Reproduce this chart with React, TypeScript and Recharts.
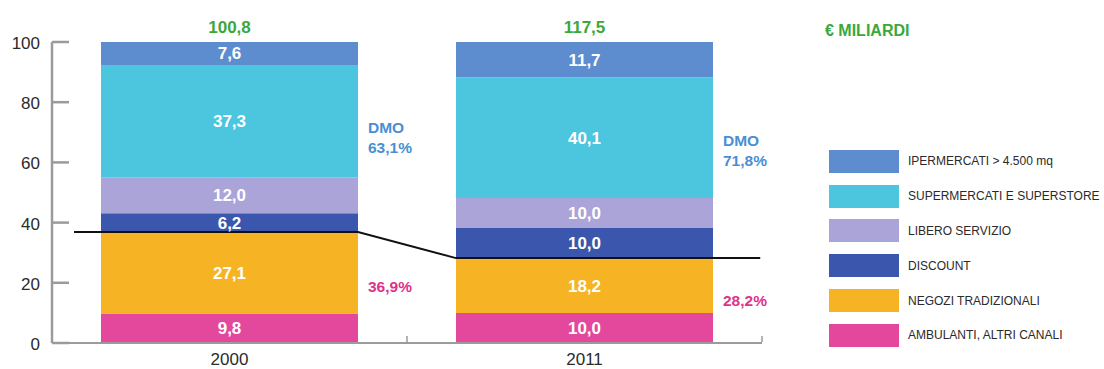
import React from "react"
import {
  Bar,
  ComposedChart,
  LabelList,
  Line,
  XAxis,
  YAxis,
} from "recharts"

// shares (%) per channel, bottom of the stack first
const years = ["2000", "2011"]
const totals = [100.8, 117.5] // € miliardi
const ambulanti = [9.8, 10.0]
const negozi = [27.1, 18.2]
const discount = [6.2, 10.0]
const libero = [12.0, 10.0]
const supermercati = [37.3, 40.1]
const ipermercati = [7.6, 11.7]
const yTicks = [0, 20, 40, 60, 80, 100]

const series = [
  { key: "ambulanti", name: "AMBULANTI, ALTRI CANALI", color: "#e4489c", values: ambulanti },
  { key: "negozi", name: "NEGOZI TRADIZIONALI", color: "#f6b324", values: negozi },
  { key: "discount", name: "DISCOUNT", color: "#3b56ad", values: discount },
  { key: "libero", name: "LIBERO SERVIZIO", color: "#aaa4d8", values: libero },
  { key: "supermercati", name: "SUPERMERCATI E SUPERSTORE", color: "#4cc5df", values: supermercati },
  { key: "ipermercati", name: "IPERMERCATI > 4.500 mq", color: "#5d8dcf", values: ipermercati },
]

const traditional = years.map((_, i) => +(ambulanti[i] + negozi[i]).toFixed(1))
const dmo = years.map((_, i) => +(100 - traditional[i]).toFixed(1))

const rows = years.map((year, i) => {
  const row: Record<string, number | string> = { year, total: totals[i], trad: traditional[i], dmo: dmo[i] }
  series.forEach((s) => (row[s.key] = s.values[i]))
  return row
})

// step line marking the traditional share, x in band units (0..2)
const stepX = [0.062, 0.862, 1.138, 1.995]
const stepLine = stepX.map((pos, i) => ({ pos, trad: traditional[i < 2 ? 0 : 1] }))

const W = 1104
const H = 369
const MARGIN = { top: 42, right: 342, bottom: 0, left: 0 }
const Y_W = 52
const X_H = 26
const BAND = (W - MARGIN.left - MARGIN.right - Y_W) / years.length
const BAR = 257

const fmt = (v: number) => v.toFixed(1).replace(".", ",")
const FONT = "Liberation Sans, Arial, sans-serif"

const YTick = (props: any) => {
  const { x, y, payload } = props
  return (
    <g>
      <line x1={x + 12} x2={x + 29} y1={y} y2={y} stroke="#9b9b9b" strokeWidth={2.5} />
      <text x={x} y={y} dy={7} textAnchor="end" fontSize={17} fill="#2b2b2b" fontFamily={FONT}>
        {payload.value}
      </text>
    </g>
  )
}

const XTick = (props: any) => {
  const { x, y, payload } = props
  return (
    <g>
      <line x1={x + BAND / 2} x2={x + BAND / 2} y1={y - 1} y2={y - 7} stroke="#9b9b9b" strokeWidth={1.5} />
      <text x={x} y={y} dy={22} textAnchor="middle" fontSize={17} fill="#2b2b2b" fontFamily={FONT}>
        {payload.value}
      </text>
    </g>
  )
}

const ShareLabel = (color: string, title?: string) => (props: any) => {
  const { x, y, width, height, value } = props
  const cx = x + width + 10
  const cy = y + height / 2
  return (
    <text x={cx} y={cy} fontSize={15.5} fontWeight="bold" fill={color} fontFamily={FONT}>
      {title ? (
        <>
          <tspan x={cx} dy={-4}>{title}</tspan>
          <tspan x={cx} dy={20}>{fmt(value)}%</tspan>
        </>
      ) : (
        <tspan x={cx} dy={5}>{fmt(value)}%</tspan>
      )}
    </text>
  )
}

const Legend = () => (
  <div style={{ position: "absolute", left: 829, top: 144, fontFamily: FONT }}>
    {[...series].reverse().map((s) => (
      <div key={s.key} style={{ display: "flex", alignItems: "center", height: 34.8 }}>
        <div style={{ width: 70, height: 23, background: s.color }} />
        <span style={{ marginLeft: 9, fontSize: 12, color: "#2a2a2a", whiteSpace: "nowrap" }}>{s.name}</span>
      </div>
    ))}
  </div>
)

export default function App() {
  return (
    <div style={{ position: "absolute", left: 0, top: 0, width: W, height: H, background: "#fff", overflow: "hidden" }}>
      <ComposedChart width={W} height={H} data={rows} margin={MARGIN}>
        <XAxis
          dataKey="year"
          height={X_H}
          axisLine={{ stroke: "#9b9b9b", strokeWidth: 2 }}
          tickLine={false}
          tickSize={0}
          tickMargin={0}
          tick={<XTick />}
        />
        <XAxis xAxisId="share" dataKey="year" hide />
        <XAxis xAxisId="step" dataKey="pos" type="number" domain={[0, 2]} hide />
        <YAxis
          width={Y_W}
          domain={[0, 100]}
          ticks={yTicks}
          axisLine={{ stroke: "#9b9b9b", strokeWidth: 2.5 }}
          tickLine={false}
          tickSize={0}
          tickMargin={12}
          tick={<YTick />}
        />
        {series.map((s, i) => (
          <Bar key={s.key} dataKey={s.key} stackId="a" fill={s.color} barSize={BAR} isAnimationActive={false}>
            <LabelList
              dataKey={s.key}
              position="center"
              formatter={(v: any) => fmt(Number(v))}
              fill="#fff"
              fontSize={17}
              fontWeight="bold"
              fontFamily={FONT}
            />
            {i === series.length - 1 && (
              <LabelList
                dataKey="total"
                position="top"
                offset={9}
                formatter={(v: any) => fmt(Number(v))}
                fill="#3ba83a"
                fontSize={17}
                fontWeight="bold"
                fontFamily={FONT}
              />
            )}
          </Bar>
        ))}
        <Bar xAxisId="share" dataKey="trad" stackId="s" fill="transparent" barSize={BAR} isAnimationActive={false}>
          <LabelList dataKey="trad" content={ShareLabel("#e0328a")} />
        </Bar>
        <Bar xAxisId="share" dataKey="dmo" stackId="s" fill="transparent" barSize={BAR} isAnimationActive={false}>
          <LabelList dataKey="dmo" content={ShareLabel("#4a8fd4", "DMO")} />
        </Bar>
        <Line
          xAxisId="step"
          data={stepLine}
          dataKey="trad"
          type="linear"
          stroke="#111"
          strokeWidth={2}
          dot={false}
          activeDot={false}
          isAnimationActive={false}
        />
      </ComposedChart>
      <div
        style={{
          position: "absolute",
          left: 825,
          top: 22,
          color: "#3ba83a",
          fontFamily: FONT,
          fontWeight: "bold",
          fontSize: 16,
        }}
      >
        € MILIARDI
      </div>
      <Legend />
    </div>
  )
}
